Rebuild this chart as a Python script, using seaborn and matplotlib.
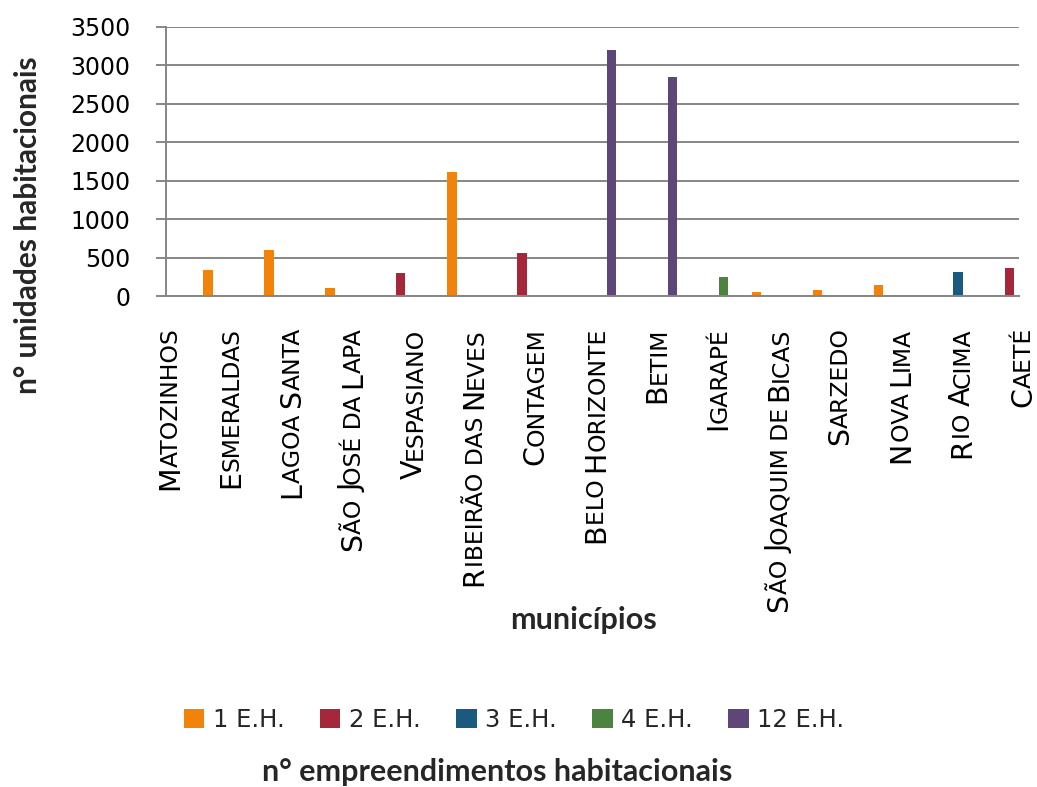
import numpy as np
import pandas as pd
import matplotlib
matplotlib.use("Agg")
import matplotlib.pyplot as plt
import matplotlib.transforms as mtransforms
import seaborn as sns

# --- data -------------------------------------------------------------
municipios = ["Matozinhos", "Esmeraldas", "Lagoa Santa", "São José da Lapa",
              "Vespasiano", "Ribeirão das Neves", "Contagem", "Belo Horizonte",
              "Betim", "Igarapé", "São Joaquim de Bicas", "Sarzedo",
              "Nova Lima", "Rio Acima", "Caeté"]
series = ["1 E.H.", "2 E.H.", "3 E.H.", "4 E.H.", "12 E.H."]

eh1 = [0, 340, 595, 110, 0, 1610, 0, 0, 0, 0, 50, 80, 145, 0, 0]
eh2 = [0, 0, 0, 0, 305, 0, 560, 0, 0, 0, 0, 0, 0, 0, 370]
eh3 = [0, 0, 0, 0, 0, 0, 0, 0, 0, 0, 0, 0, 0, 310, 0]
eh4 = [0, 0, 0, 0, 0, 0, 0, 0, 0, 245, 0, 0, 0, 0, 0]
eh12 = [0, 0, 0, 0, 0, 0, 0, 3200, 2850, 0, 0, 0, 0, 0, 0]

yticks = [0, 500, 1000, 1500, 2000, 2500, 3000, 3500]
cores = ["#F2820A", "#A4283A", "#1A5A7E", "#4C843F", "#5E4679"]

rows = []
for serie, vals in zip(series, [eh1, eh2, eh3, eh4, eh12]):
    for m, v in zip(municipios, vals):
        rows.append((m, serie, v))
df = pd.DataFrame(rows, columns=["município", "empreendimentos", "unidades"])

# --- figure -----------------------------------------------------------
sns.set_style("white")
plt.rcParams["font.family"] = ["DejaVu Sans"]

W, H, DPI = 1037, 787, 100
fig = plt.figure(figsize=(W / DPI, H / DPI), dpi=DPI)
ax = fig.add_axes([166 / W, 1 - 296 / H, (1019 - 166) / W, (296 - 27) / H])

sns.barplot(data=df, x="município", y="unidades", hue="empreendimentos",
            order=municipios, hue_order=series, palette=cores,
            width=0.77, gap=0, saturation=1, linewidth=0, errorbar=None, ax=ax)

handles, labels = ax.get_legend_handles_labels()
if ax.get_legend() is not None:
    ax.get_legend().remove()

grid_col = "#868686"
ax.set_xlim(0, len(municipios) - 1)
ax.set_ylim(0, 3500)
ax.set_yticks(yticks)
ax.set_yticklabels([str(t) for t in yticks])
ax.yaxis.grid(True, color=grid_col, linewidth=1.4)
ax.set_axisbelow(True)
for side in ["top", "right"]:
    ax.spines[side].set_visible(False)
for side in ["left", "bottom"]:
    ax.spines[side].set_color(grid_col)
    ax.spines[side].set_linewidth(1.4)
ax.tick_params(axis="y", length=7.2, width=1.4, color=grid_col, pad=18.5,
               labelsize=17, labelcolor="black", left=True)
ax.tick_params(axis="x", length=0, labelbottom=False)
ax.set_xlabel("")
ax.set_ylabel("")

# --- category labels in small caps, rotated ----------------------------
renderer = fig.canvas.get_renderer()
BIG, SMALL = 20.5, 16.9
ident = mtransforms.IdentityTransform()


def advance(s, size):
    """Pen advance of a string in pixels (bearing-corrected)."""
    def w(txt):
        t = fig.text(0, 0, txt, fontsize=size)
        bb = t.get_window_extent(renderer)
        t.remove()
        return bb.width
    return w("H" + s + "H") - w("HH")


def small_caps_runs(label):
    runs = []
    for ch in label:
        if ch == " ":
            big = runs[-1][1] if runs else False
            txt = " "
        else:
            big = ch.isupper()
            txt = ch.upper()
        if runs and runs[-1][1] == big:
            runs[-1][0] += txt
        else:
            runs.append([txt, big])
    return runs


y_top = H - 328
for i, name in enumerate(municipios):
    runs = small_caps_runs(name)
    lens = [advance(t, BIG if b else SMALL) for t, b in runs]
    # tighten the joint between a capital and the small-cap run after it
    lens = [L - (1.0 if b else 0.0) for (t, b), L in zip(runs, lens)]
    x_base = ax.transData.transform((i, 0))[0] + 12
    y = y_top - sum(lens)
    for (t, b), L in zip(runs, lens):
        fig.text(x_base, y, t, transform=ident, rotation=90,
                 rotation_mode="anchor", ha="left", va="baseline",
                 fontsize=BIG if b else SMALL, color="black")
        y += L

# --- titles -----------------------------------------------------------
fig.text(583 / W, 1 - 620 / H, "municípios", ha="center", va="center",
         fontsize=22, fontweight="bold", family="Lato")
fig.text(28 / W, 1 - 225 / H, "n° unidades habitacionais", ha="center",
         va="center", rotation=90, fontsize=21.5, fontweight="bold", family="Lato")

fig.legend(handles, labels, loc="center", bbox_to_anchor=(514 / W, 1 - 720 / H),
           ncol=5, frameon=False, fontsize=17.5, handlelength=0.85,
           handleheight=0.85, handletextpad=0.35, columnspacing=1.45,
           borderaxespad=0)
fig.text(497 / W, 1 - 772 / H, "n° empreendimentos habitacionais",
         ha="center", va="center", fontsize=22, fontweight="bold", family="Lato")

fig.savefig("out.png", dpi=DPI)
